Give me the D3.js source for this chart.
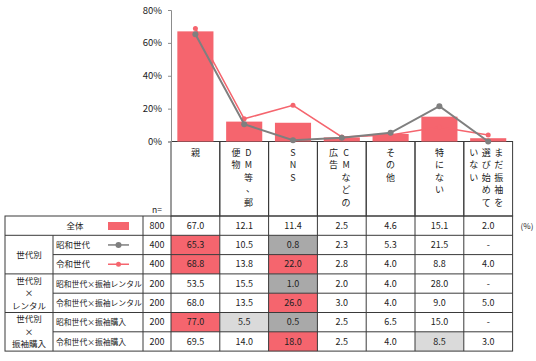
<!DOCTYPE html>
<html>
<head>
<meta charset="utf-8">
<script src="https://cdn.jsdelivr.net/npm/d3@7"></script>
<style>
  body { margin: 0; background: #fff; }
  svg { font-family: "Noto Sans CJK JP", "Noto Sans", sans-serif; }
</style>
</head>
<body>
<svg id="chart" width="536" height="361"></svg>
<script>
// categories (columns), header text split into vertical columns (right to left)
var categories = ["親", "DM等、郵便物", "SNS", "CMなどの広告", "その他", "特にない", "まだ振袖を選び始めていない"];
var headerLines = [["親"], ["DM等、郵", "便物"], ["SNS"], ["CMなどの", "広告"], ["その他"], ["特にない"], ["まだ振袖を", "選び始めて", "いない"]];

// table rows
var rowLabels = ["全体", "昭和世代", "令和世代", "昭和世代×振袖レンタル", "令和世代×振袖レンタル", "昭和世代×振袖購入", "令和世代×振袖購入"];
var nValues = [800, 400, 400, 200, 200, 200, 200];
var total = [67.0, 12.1, 11.4, 2.5, 4.6, 15.1, 2.0];
var showa = [65.3, 10.5, 0.8, 2.3, 5.3, 21.5, null];
var reiwa = [68.8, 13.8, 22.0, 2.8, 4.0, 8.8, 4.0];
var showaRental = [53.5, 15.5, 1.0, 2.0, 4.0, 28.0, null];
var reiwaRental = [68.0, 13.5, 26.0, 3.0, 4.0, 9.0, 5.0];
var showaBuy = [77.0, 5.5, 0.5, 2.5, 6.5, 15.0, null];
var reiwaBuy = [69.5, 14.0, 18.0, 2.5, 4.0, 8.5, 3.0];
var rows = [total, showa, reiwa, showaRental, reiwaRental, showaBuy, reiwaBuy];

// groups: label lines, first row, last row
var groups = [
  { lines: ["世代別"], from: 1, to: 2 },
  { lines: ["世代別", "×", "レンタル"], from: 3, to: 4 },
  { lines: ["世代別", "×", "振袖購入"], from: 5, to: 6 }
];

// highlighted cells: [row, column, kind]
var highlights = [
  [1, 0, "high"], [1, 2, "low"],
  [2, 0, "high"], [2, 2, "high"],
  [3, 2, "low"],
  [4, 2, "high"],
  [5, 0, "high"], [5, 1, "mid"], [5, 2, "low"],
  [6, 2, "high"], [6, 5, "mid"]
];

var yTicks = [0, 20, 40, 60, 80];

var pink = "#f5656e";
var grayLine = "#7f7f7f";
var border = "#3a3a3a";
var fills = { high: pink, low: "#a9a9a9", mid: "#dadada" };

var svg = d3.select("#chart");

var left = 171, right = 512.6;
var x = d3.scaleBand().domain(categories).range([left, right]);
var xBar = d3.scaleBand().domain(categories).range([left, right]).paddingInner(0.26).paddingOuter(0.13);
var y = d3.scaleLinear().domain([0, 80]).range([141.5, 10]);

var tableTop = 216, rowH = 19.3;
var colGroup = 5, colLabel = 53, colN = 143;
var rowY = function (i) { return tableTop + i * rowH; };

// highlighted cell backgrounds
svg.append("g").selectAll("rect").data(highlights).enter().append("rect")
  .attr("x", function (d) { return x(categories[d[1]]); })
  .attr("y", function (d) { return rowY(d[0]); })
  .attr("width", x.bandwidth())
  .attr("height", rowH)
  .attr("fill", function (d) { return fills[d[2]]; });

// grid
var grid = svg.append("g").attr("stroke", border).attr("stroke-width", 1).attr("fill", "none");
categories.forEach(function (c) {
  grid.append("rect").attr("x", x(c)).attr("y", y(0)).attr("width", x.bandwidth()).attr("height", tableTop - y(0));
});
grid.append("rect").attr("x", colGroup).attr("y", tableTop).attr("width", right - colGroup).attr("height", rowH * rows.length);
d3.range(1, rows.length).forEach(function (i) {
  var inGroup = groups.some(function (g) { return i > g.from && i <= g.to; });
  grid.append("line").attr("x1", inGroup ? colLabel : colGroup).attr("x2", right)
    .attr("y1", rowY(i)).attr("y2", rowY(i));
});
grid.append("line").attr("x1", colLabel).attr("x2", colLabel).attr("y1", rowY(1)).attr("y2", rowY(rows.length));
[colN].concat(categories.map(function (c) { return x(c); })).forEach(function (vx) {
  grid.append("line").attr("x1", vx).attr("x2", vx).attr("y1", tableTop).attr("y2", rowY(rows.length));
});

// header text (vertical, right to left)
var hdr = svg.append("g").attr("font-size", 9).attr("fill", "#222").attr("text-anchor", "middle");
headerLines.forEach(function (cols, ci) {
  var cx = x(categories[ci]) + x.bandwidth() / 2;
  var n = cols.length;
  cols.forEach(function (str, j) {
    var colX = n === 1 ? cx : cx - 2 + 12.5 * ((n - 1) / 2 - j);
    Array.from(str).forEach(function (ch, k) {
      hdr.append("text").attr("x", ch === "、" ? colX + 2 : colX)
        .attr("y", (ch === "、" ? 154 : 155.5) + k * 12.5).text(ch);
    });
  });
});

svg.append("text").attr("x", 157).attr("y", 213).attr("font-size", 8.5).attr("text-anchor", "middle").attr("fill", "#222").text("n=");

// row labels, n, values
var tbl = svg.append("g").attr("font-size", 9).attr("fill", "#222");
rows.forEach(function (vals, i) {
  var cy = rowY(i) + rowH / 2 + 3.2;
  if (i === 0) {
    tbl.append("text").attr("x", 75).attr("y", cy).attr("text-anchor", "middle").attr("font-size", 8.5).text(rowLabels[i]);
  } else {
    tbl.append("text").attr("x", 56).attr("y", cy).attr("font-size", rowLabels[i].length > 6 ? 7.8 : 8.5).text(rowLabels[i]);
  }
  tbl.append("text").attr("x", (colN + left) / 2).attr("y", cy).attr("text-anchor", "middle").text(nValues[i]);
  vals.forEach(function (v, ci) {
    tbl.append("text").attr("x", x(categories[ci]) + x.bandwidth() / 2).attr("y", cy)
      .attr("text-anchor", "middle").text(v === null ? "-" : v.toFixed(1));
  });
});
tbl.append("text").attr("x", 527).attr("y", rowY(0) + rowH / 2 + 3.2).attr("text-anchor", "middle").attr("font-size", 8).text("(%)");

// group labels
groups.forEach(function (g) {
  var cy = (rowY(g.from) + rowY(g.to + 1)) / 2;
  var n = g.lines.length;
  g.lines.forEach(function (t, k) {
    tbl.append("text").attr("x", (colGroup + colLabel) / 2).attr("y", cy + 3 + (k - (n - 1) / 2) * 12.5)
      .attr("text-anchor", "middle").attr("font-size", 8.5).text(t);
  });
});

// legend samples
var lg = svg.append("g");
lg.append("rect").attr("x", 108).attr("y", rowY(0) + 6).attr("width", 21).attr("height", 8).attr("fill", pink);
[[1, grayLine, 3], [2, pink, 2.5]].forEach(function (d) {
  var ly = rowY(d[0]) + rowH / 2;
  lg.append("line").attr("x1", 108).attr("x2", 129).attr("y1", ly).attr("y2", ly).attr("stroke", d[1]).attr("stroke-width", 1.5);
  lg.append("circle").attr("cx", 118.5).attr("cy", ly).attr("r", d[2]).attr("fill", d[1]);
});

// bars
svg.append("g").selectAll("rect").data(total).enter().append("rect")
  .attr("x", function (d, i) { return xBar(categories[i]); })
  .attr("y", function (d) { return y(d); })
  .attr("width", xBar.bandwidth())
  .attr("height", function (d) { return y(0) - y(d); })
  .attr("fill", pink);

// y axis
var axis = svg.append("g").attr("transform", "translate(" + left + ",0)")
  .call(d3.axisLeft(y).tickValues(yTicks).tickFormat(function (d) { return d + "%"; }).tickSize(3).tickPadding(6));
axis.select(".domain").attr("stroke", "#8c8c8c");
axis.selectAll(".tick line").attr("stroke", "#8c8c8c");
axis.selectAll("text").attr("font-size", 9.5).attr("fill", "#222").attr("font-family", "Noto Sans CJK JP");

// lines
var cx = function (d, i) { return x(categories[i]) + x.bandwidth() / 2; };
[[reiwa, pink, 2.5, 1.5], [showa, grayLine, 3, 2]].forEach(function (s) {
  var vals = s[0].map(function (v) { return v === null ? 0 : v; });
  var line = d3.line().x(cx).y(function (d) { return y(d); });
  svg.append("path").attr("d", line(vals)).attr("fill", "none").attr("stroke", s[1]).attr("stroke-width", s[3]);
  svg.append("g").selectAll("circle").data(vals).enter().append("circle")
    .attr("cx", cx).attr("cy", function (d) { return y(d); }).attr("r", s[2]).attr("fill", s[1]);
});
</script>
</body>
</html>
